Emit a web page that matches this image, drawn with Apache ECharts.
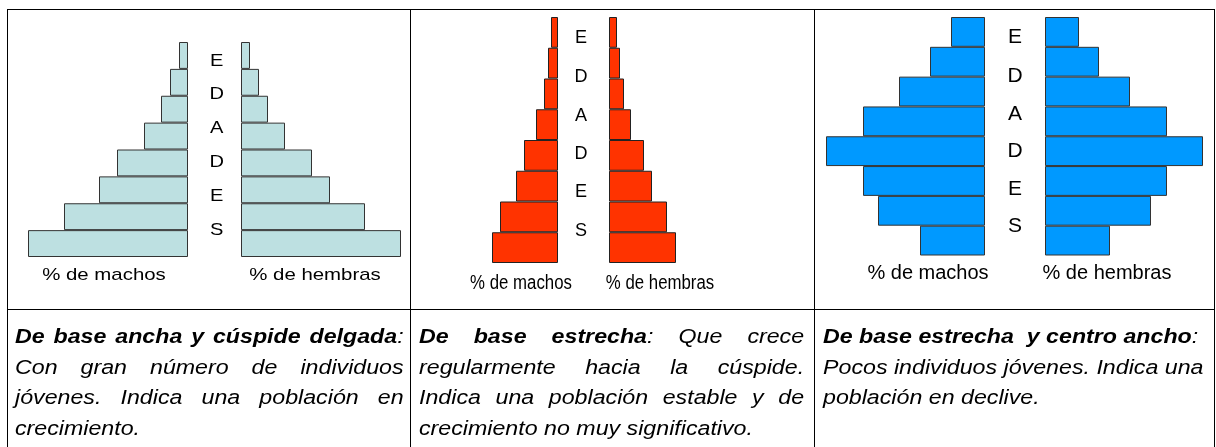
<!DOCTYPE html>
<html lang="es">
<head>
<meta charset="UTF-8">
<title>Pirámides de población</title>
<script src="https://cdn.jsdelivr.net/npm/echarts@6/dist/echarts.min.js"></script>
<style>
  body { margin: 0; width: 1216px; height: 447px; overflow: hidden; background: #fff; position: relative; }
  .ln { position: absolute; background: #000; }
  #chart { position: absolute; left: 0; top: 0; width: 1216px; height: 447px; z-index: 2; }
  .txt { position: absolute; top: 321px; font-family: "Liberation Sans", Arial, sans-serif; font-size: 20px; font-style: italic; color: #000; transform-origin: 0 0; z-index: 3; }
  .txt div { height: 30.6px; line-height: 30.6px; white-space: pre; }
  .j div { text-align: justify; text-align-last: justify; }
  .j div.last { text-align-last: left; }
  b { font-weight: bold; }
</style>
</head>
<body>
  <!-- tabla -->
  <div class="ln" style="left:7px;top:9px;width:1208px;height:1px"></div>
  <div class="ln" style="left:7px;top:309px;width:1208px;height:1px"></div>
  <div class="ln" style="left:7px;top:9px;width:1px;height:440px"></div>
  <div class="ln" style="left:410px;top:9px;width:1px;height:440px"></div>
  <div class="ln" style="left:814px;top:9px;width:1px;height:440px"></div>
  <div class="ln" style="left:1214px;top:9px;width:1px;height:440px"></div>

  <div id="chart"></div>

  <div class="txt j" style="left:15px;width:335px;transform:scaleX(1.16)">
    <div><b>De base ancha y cúspide delgada</b>:</div>
    <div>Con gran número de individuos</div>
    <div>jóvenes. Indica una población en</div>
    <div class="last">crecimiento.</div>
  </div>
  <div class="txt j" style="left:419px;width:332px;transform:scaleX(1.16)">
    <div><b>De base estrecha</b>: Que crece</div>
    <div>regularmente hacia la cúspide.</div>
    <div>Indica una población estable y de</div>
    <div class="last">crecimiento no muy significativo.</div>
  </div>
  <div class="txt" style="left:823px;transform:scaleX(1.16)">
    <div><b>De base estrecha  y centro ancho</b>:</div>
    <div>Pocos individuos jóvenes. Indica una</div>
    <div>población en declive.</div>
  </div>

<script>
  // grupos de edad, de abajo (jóvenes) hacia arriba (viejos)
  var grupos = ['0-9', '10-19', '20-29', '30-39', '40-49', '50-59', '60-69', '70+'];
  var machos1 = [16, 12.4, 8.9, 7.1, 4.4, 2.7, 1.8, 0.9];
  var hembras1 = [16, 12.4, 8.9, 7.1, 4.4, 2.7, 1.8, 0.9];
  var machos2 = [6.6, 5.8, 4.2, 3.4, 2.2, 1.4, 1.0, 0.7];
  var hembras2 = [6.7, 5.8, 4.3, 3.5, 2.2, 1.5, 1.1, 0.8];
  var machos3 = [6.5, 10.7, 12.2, 15.9, 12.2, 8.6, 5.5, 3.4];
  var hembras3 = [6.5, 10.6, 12.2, 15.8, 12.2, 8.5, 5.4, 3.4];
  var letras = ['E', 'D', 'A', 'D', 'E', 'S'];
  var etiquetas = ['% de machos', '% de hembras'];

  // posición de cada pirámide en la página
  var paneles = [
    { m: machos1, h: hembras1, max: 16, izq: 28, der: 241, ancho: 160, top: 42, alto: 215,
      color: '#bde0e1', borde: '#333',
      lx: 216.7, ly: [61, 94.5, 128.5, 162, 196, 230], lf: 17, ls: 1.18,
      ex: [104, 315], ey: 275, ef: 17, es: 1.2 },
    { m: machos2, h: hembras2, max: 7, izq: 488, der: 609, ancho: 70, top: 17, alto: 246,
      color: '#ff3300', borde: '#222',
      lx: 581, ly: [38, 76.5, 115.5, 153.5, 192, 230.5], lf: 19, ls: 0.95,
      ex: [521, 660], ey: 283, ef: 20, es: 0.84 },
    { m: machos3, h: hembras3, max: 16, izq: 825, der: 1045, ancho: 160, top: 17, alto: 238.5,
      color: '#0099ff', borde: '#333',
      lx: 1015, ly: [37.7, 76, 114.3, 151.7, 189.3, 226.7], lf: 21, ls: 1.0,
      ex: [928, 1107], ey: 273.5, ef: 20, es: 1.0 }
  ];

  var grid = [], xAxis = [], yAxis = [], series = [], graphic = [];
  paneles.forEach(function (p, i) {
    [[p.izq, p.m, true], [p.der, p.h, false]].forEach(function (lado) {
      var k = grid.length;
      grid.push({ left: lado[0], top: p.top, width: p.ancho, height: p.alto });
      xAxis.push({ type: 'value', gridIndex: k, min: 0, max: p.max, inverse: lado[2], show: false });
      yAxis.push({ type: 'category', gridIndex: k, data: grupos, show: false });
      series.push({
        type: 'bar', xAxisIndex: k, yAxisIndex: k, data: lado[1],
        barCategoryGap: '0%', silent: true,
        itemStyle: { color: p.color, borderColor: p.borde, borderWidth: 1 }
      });
    });
    letras.forEach(function (l, j) {
      graphic.push({
        type: 'text', x: p.lx, y: p.ly[j], scaleX: p.ls, silent: true,
        style: { text: l, font: p.lf + 'px "Liberation Sans", Arial, sans-serif',
          textAlign: 'center', textVerticalAlign: 'middle', fill: '#000' }
      });
    });
    etiquetas.forEach(function (t, j) {
      graphic.push({
        type: 'text', x: p.ex[j], y: p.ey, scaleX: p.es, silent: true,
        style: { text: t, font: p.ef + 'px "Liberation Sans", Arial, sans-serif',
          textAlign: 'center', textVerticalAlign: 'middle', fill: '#000' }
      });
    });
  });

  var myChart = echarts.init(document.getElementById('chart'));
  myChart.setOption({
    animation: false,
    grid: grid,
    xAxis: xAxis,
    yAxis: yAxis,
    series: series,
    graphic: graphic
  });
</script>
</body>
</html>
